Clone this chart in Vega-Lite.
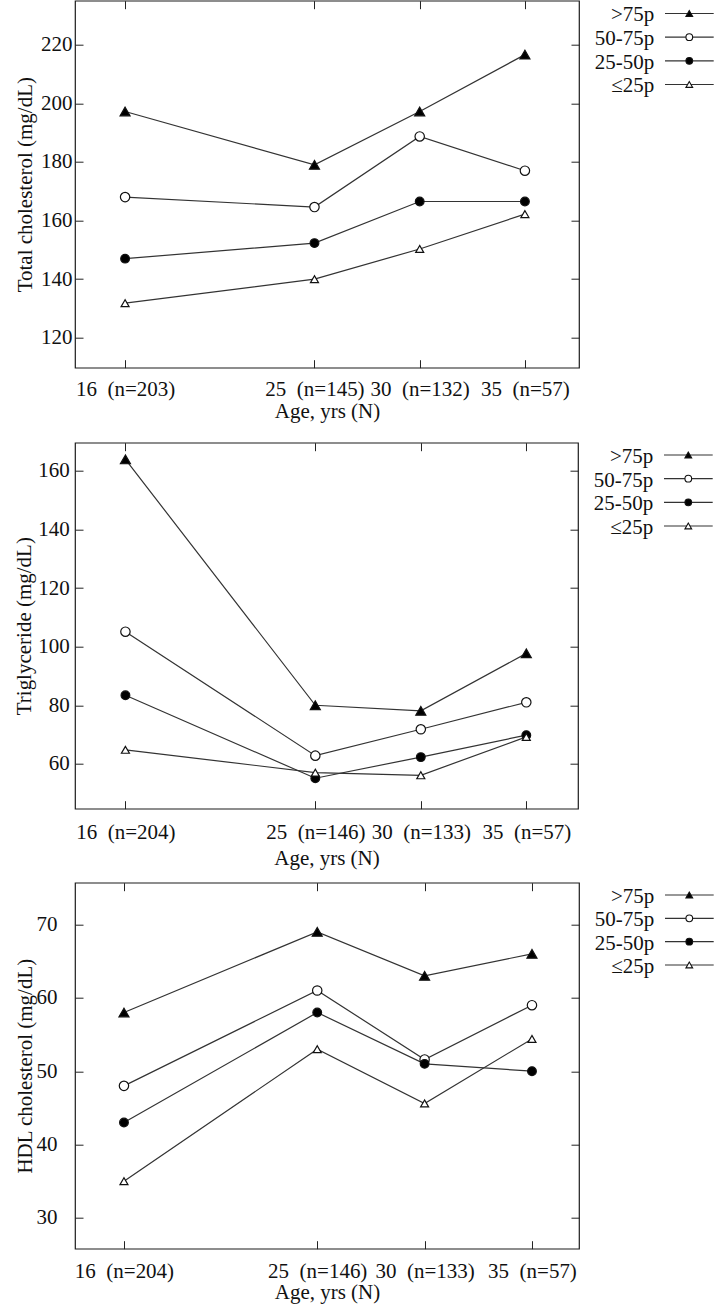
{
  "$schema": "https://vega.github.io/schema/vega-lite/v6.json",
  "background": "white",
  "padding": {"left": 12, "top": -1.3, "right": 0, "bottom": 0},
  "datasets": {
    "keys": [
      {"group": ">75p"}, {"group": "50-75p"}, {"group": "25-50p"}, {"group": "≤25p"}
    ],
    "tc": [
      {"age": 16, "group": ">75p", "value": 197.2},
      {"age": 25, "group": ">75p", "value": 179},
      {"age": 30, "group": ">75p", "value": 197.2},
      {"age": 35, "group": ">75p", "value": 216.6},
      {"age": 16, "group": "50-75p", "value": 168},
      {"age": 25, "group": "50-75p", "value": 164.6},
      {"age": 30, "group": "50-75p", "value": 188.7},
      {"age": 35, "group": "50-75p", "value": 177},
      {"age": 16, "group": "25-50p", "value": 147},
      {"age": 25, "group": "25-50p", "value": 152.3},
      {"age": 30, "group": "25-50p", "value": 166.5},
      {"age": 35, "group": "25-50p", "value": 166.5},
      {"age": 16, "group": "≤25p", "value": 131.8},
      {"age": 25, "group": "≤25p", "value": 140},
      {"age": 30, "group": "≤25p", "value": 150.3},
      {"age": 35, "group": "≤25p", "value": 162.2}
    ],
    "tg": [
      {"age": 16, "group": ">75p", "value": 163.9},
      {"age": 25, "group": ">75p", "value": 80},
      {"age": 30, "group": ">75p", "value": 78.1},
      {"age": 35, "group": ">75p", "value": 97.7},
      {"age": 16, "group": "50-75p", "value": 105.1},
      {"age": 25, "group": "50-75p", "value": 62.8},
      {"age": 30, "group": "50-75p", "value": 71.8},
      {"age": 35, "group": "50-75p", "value": 81},
      {"age": 16, "group": "25-50p", "value": 83.4},
      {"age": 25, "group": "25-50p", "value": 55.1},
      {"age": 30, "group": "25-50p", "value": 62.3},
      {"age": 35, "group": "25-50p", "value": 69.8},
      {"age": 16, "group": "≤25p", "value": 64.8},
      {"age": 25, "group": "≤25p", "value": 57},
      {"age": 30, "group": "≤25p", "value": 56.1},
      {"age": 35, "group": "≤25p", "value": 69.2}
    ],
    "hdl": [
      {"age": 16, "group": ">75p", "value": 58},
      {"age": 25, "group": ">75p", "value": 69},
      {"age": 30, "group": ">75p", "value": 63},
      {"age": 35, "group": ">75p", "value": 66},
      {"age": 16, "group": "50-75p", "value": 48},
      {"age": 25, "group": "50-75p", "value": 61},
      {"age": 30, "group": "50-75p", "value": 51.6},
      {"age": 35, "group": "50-75p", "value": 59},
      {"age": 16, "group": "25-50p", "value": 43},
      {"age": 25, "group": "25-50p", "value": 58},
      {"age": 30, "group": "25-50p", "value": 51},
      {"age": 35, "group": "25-50p", "value": 50},
      {"age": 16, "group": "≤25p", "value": 35},
      {"age": 25, "group": "≤25p", "value": 53},
      {"age": 30, "group": "≤25p", "value": 45.6},
      {"age": 35, "group": "≤25p", "value": 54.4}
    ]
  },
  "columns": 1,
  "spacing": 8,
  "resolve": {"scale": {"x": "independent", "y": "independent"}},
  "concat": [
    {
      "spacing": 0,
      "resolve": {"scale": {"x": "independent", "y": "independent"}},
      "hconcat": [
        {
          "width": 504,
          "height": 367,
          "data": {"name": "tc"},
          "layer": [
            {
              "mark": {"type": "line", "color": "#333", "strokeWidth": 1.2},
              "encoding": {
                "x": {"field": "age", "type": "quantitative",
                  "scale": {"domain": [13.62, 37.57], "nice": false, "zero": false},
                  "axis": {"values": [16, 25, 30, 35], "title": "Age, yrs (N)",
                    "labelExpr": "{'16':'16\u00a0\u00a0(n=203)','25':'25\u00a0\u00a0(n=145)','30':'30\u00a0\u00a0(n=132)','35':'35\u00a0\u00a0(n=57)'}[datum.label]",
                    "labelPadding": 19, "titleY": 33, "titleBaseline": "top"}},
                "y": {"field": "value", "type": "quantitative",
                  "scale": {"domain": [109.8, 235], "nice": false, "zero": false},
                  "axis": {"values": [120, 140, 160, 180, 200, 220], "title": "Total cholesterol (mg/dL)",
                    "labelPadding": 11, "titleX": -40, "titleAngle": 270, "titleBaseline": "bottom"}},
                "detail": {"field": "group"}
              }
            },
            {
              "mark": {"type": "point", "filled": true, "stroke": "#111", "strokeWidth": 1.2, "opacity": 1},
              "encoding": {
                "x": {"field": "age", "type": "quantitative",
                  "scale": {"domain": [13.62, 37.57], "nice": false, "zero": false},
                  "axis": {"orient": "top", "values": [16, 25, 30, 35], "labels": false, "title": null}},
                "y": {"field": "value", "type": "quantitative",
                  "scale": {"domain": [109.8, 235], "nice": false, "zero": false},
                  "axis": {"orient": "right", "values": [120, 140, 160, 180, 200, 220], "labels": false, "title": null}},
                "shape": {"field": "group", "scale": {"domain": [">75p", "50-75p", "25-50p", "≤25p"], "range": ["triangle-up", "circle", "circle", "triangle-up"]}, "legend": null},
                "fill": {"field": "group", "scale": {"domain": [">75p", "50-75p", "25-50p", "≤25p"], "range": ["#000", "#fff", "#000", "#fff"]}, "legend": null},
                "size": {"field": "group", "scale": {"domain": [">75p", "50-75p", "25-50p", "≤25p"], "range": [100, 64, 80, 100]}, "legend": null}
              }
            }
          ],
          "resolve": {"axis": {"x": "independent", "y": "independent"}}
        },
        {
          "width": 139,
          "height": 431.4,
          "view": {"stroke": null},
          "data": {"name": "keys"},
          "layer": [
            {
              "mark": {"type": "rule", "color": "#333", "strokeWidth": 1.2},
              "encoding": {
                "x": {"datum": 84, "type": "quantitative", "scale": {"domain": [0, 139], "nice": false, "zero": false}, "axis": null},
                "x2": {"datum": 132.7},
                "y": {"field": "group", "type": "nominal", "scale": {"type": "point", "domain": [">75p", "50-75p", "25-50p", "≤25p"], "range": [12.8, 83.8], "padding": 0}, "axis": null}
              }
            },
            {
              "mark": {"type": "point", "filled": true, "stroke": "#111", "strokeWidth": 1.1, "size": 45, "opacity": 1},
              "encoding": {
                "x": {"datum": 108.3, "type": "quantitative", "scale": {"domain": [0, 139], "nice": false, "zero": false}, "axis": null},
                "y": {"field": "group", "type": "nominal", "scale": {"type": "point", "domain": [">75p", "50-75p", "25-50p", "≤25p"], "range": [12.8, 83.8], "padding": 0}, "axis": null},
                "shape": {"field": "group", "scale": {"domain": [">75p", "50-75p", "25-50p", "≤25p"], "range": ["triangle-up", "circle", "circle", "triangle-up"]}, "legend": null},
                "fill": {"field": "group", "scale": {"domain": [">75p", "50-75p", "25-50p", "≤25p"], "range": ["#000", "#fff", "#000", "#fff"]}, "legend": null}
              }
            },
            {
              "mark": {"type": "text", "align": "right", "baseline": "middle", "fontSize": 21, "color": "#111", "dy": 2},
              "encoding": {
                "x": {"datum": 73.3, "type": "quantitative", "scale": {"domain": [0, 139], "nice": false, "zero": false}, "axis": null},
                "y": {"field": "group", "type": "nominal", "scale": {"type": "point", "domain": [">75p", "50-75p", "25-50p", "≤25p"], "range": [12.8, 83.8], "padding": 0}, "axis": null},
                "text": {"field": "group"}
              }
            }
          ]
        }
      ]
    },
    {
      "spacing": 0,
      "resolve": {"scale": {"x": "independent", "y": "independent"}},
      "hconcat": [
        {
          "width": 503,
          "height": 366,
          "data": {"name": "tg"},
          "layer": [
            {
              "mark": {"type": "line", "color": "#333", "strokeWidth": 1.2},
              "encoding": {
                "x": {"field": "age", "type": "quantitative",
                  "scale": {"domain": [13.61, 37.45], "nice": false, "zero": false},
                  "axis": {"values": [16, 25, 30, 35], "title": "Age, yrs (N)",
                    "labelExpr": "{'16':'16\u00a0\u00a0(n=204)','25':'25\u00a0\u00a0(n=146)','30':'30\u00a0\u00a0(n=133)','35':'35\u00a0\u00a0(n=57)'}[datum.label]",
                    "labelPadding": 21, "titleY": 39, "titleBaseline": "top"}},
                "y": {"field": "value", "type": "quantitative",
                  "scale": {"domain": [44.7, 169.6], "nice": false, "zero": false},
                  "axis": {"values": [60, 80, 100, 120, 140, 160], "title": "Triglyceride (mg/dL)",
                    "labelPadding": 13.7, "titleX": -41, "titleAngle": 270, "titleBaseline": "bottom"}},
                "detail": {"field": "group"}
              }
            },
            {
              "mark": {"type": "point", "filled": true, "stroke": "#111", "strokeWidth": 1.2, "opacity": 1},
              "encoding": {
                "x": {"field": "age", "type": "quantitative",
                  "scale": {"domain": [13.61, 37.45], "nice": false, "zero": false},
                  "axis": {"orient": "top", "values": [16, 25, 30, 35], "labels": false, "title": null}},
                "y": {"field": "value", "type": "quantitative",
                  "scale": {"domain": [44.7, 169.6], "nice": false, "zero": false},
                  "axis": {"orient": "right", "values": [60, 80, 100, 120, 140, 160], "labels": false, "title": null}},
                "shape": {"field": "group", "scale": {"domain": [">75p", "50-75p", "25-50p", "≤25p"], "range": ["triangle-up", "circle", "circle", "triangle-up"]}, "legend": null},
                "fill": {"field": "group", "scale": {"domain": [">75p", "50-75p", "25-50p", "≤25p"], "range": ["#000", "#fff", "#000", "#fff"]}, "legend": null},
                "size": {"field": "group", "scale": {"domain": [">75p", "50-75p", "25-50p", "≤25p"], "range": [100, 64, 80, 100]}, "legend": null}
              }
            }
          ],
          "resolve": {"axis": {"x": "independent", "y": "independent"}}
        },
        {
          "width": 139,
          "height": 429.7,
          "view": {"stroke": null},
          "data": {"name": "keys"},
          "layer": [
            {
              "mark": {"type": "rule", "color": "#333", "strokeWidth": 1.2},
              "encoding": {
                "x": {"datum": 84, "type": "quantitative", "scale": {"domain": [0, 139], "nice": false, "zero": false}, "axis": null},
                "x2": {"datum": 132.7},
                "y": {"field": "group", "type": "nominal", "scale": {"type": "point", "domain": [">75p", "50-75p", "25-50p", "≤25p"], "range": [12.3, 83.3], "padding": 0}, "axis": null}
              }
            },
            {
              "mark": {"type": "point", "filled": true, "stroke": "#111", "strokeWidth": 1.1, "size": 45, "opacity": 1},
              "encoding": {
                "x": {"datum": 108.3, "type": "quantitative", "scale": {"domain": [0, 139], "nice": false, "zero": false}, "axis": null},
                "y": {"field": "group", "type": "nominal", "scale": {"type": "point", "domain": [">75p", "50-75p", "25-50p", "≤25p"], "range": [12.3, 83.3], "padding": 0}, "axis": null},
                "shape": {"field": "group", "scale": {"domain": [">75p", "50-75p", "25-50p", "≤25p"], "range": ["triangle-up", "circle", "circle", "triangle-up"]}, "legend": null},
                "fill": {"field": "group", "scale": {"domain": [">75p", "50-75p", "25-50p", "≤25p"], "range": ["#000", "#fff", "#000", "#fff"]}, "legend": null}
              }
            },
            {
              "mark": {"type": "text", "align": "right", "baseline": "middle", "fontSize": 21, "color": "#111", "dy": 2},
              "encoding": {
                "x": {"datum": 73.3, "type": "quantitative", "scale": {"domain": [0, 139], "nice": false, "zero": false}, "axis": null},
                "y": {"field": "group", "type": "nominal", "scale": {"type": "point", "domain": [">75p", "50-75p", "25-50p", "≤25p"], "range": [12.3, 83.3], "padding": 0}, "axis": null},
                "text": {"field": "group"}
              }
            }
          ]
        }
      ]
    },
    {
      "spacing": 0,
      "resolve": {"scale": {"x": "independent", "y": "independent"}},
      "hconcat": [
        {
          "width": 504,
          "height": 366,
          "data": {"name": "hdl"},
          "layer": [
            {
              "mark": {"type": "line", "color": "#333", "strokeWidth": 1.2},
              "encoding": {
                "x": {"field": "age", "type": "quantitative",
                  "scale": {"domain": [13.72, 37.19], "nice": false, "zero": false},
                  "axis": {"values": [16, 25, 30, 35], "title": "Age, yrs (N)",
                    "labelExpr": "{'16':'16\u00a0\u00a0(n=204)','25':'25\u00a0\u00a0(n=146)','30':'30\u00a0\u00a0(n=133)','35':'35\u00a0\u00a0(n=57)'}[datum.label]",
                    "labelPadding": 19.5, "titleY": 33, "titleBaseline": "top"}},
                "y": {"field": "value", "type": "quantitative",
                  "scale": {"domain": [25.8, 75.7], "nice": false, "zero": false},
                  "axis": {"values": [30, 40, 50, 60, 70], "title": "HDL cholesterol (mg/dL)",
                    "labelPadding": 26, "titleX": -40, "titleAngle": 270, "titleBaseline": "bottom"}},
                "detail": {"field": "group"}
              }
            },
            {
              "mark": {"type": "point", "filled": true, "stroke": "#111", "strokeWidth": 1.2, "opacity": 1},
              "encoding": {
                "x": {"field": "age", "type": "quantitative",
                  "scale": {"domain": [13.72, 37.19], "nice": false, "zero": false},
                  "axis": {"orient": "top", "values": [16, 25, 30, 35], "labels": false, "title": null}},
                "y": {"field": "value", "type": "quantitative",
                  "scale": {"domain": [25.8, 75.7], "nice": false, "zero": false},
                  "axis": {"orient": "right", "values": [30, 40, 50, 60, 70], "labels": false, "title": null}},
                "shape": {"field": "group", "scale": {"domain": [">75p", "50-75p", "25-50p", "≤25p"], "range": ["triangle-up", "circle", "circle", "triangle-up"]}, "legend": null},
                "fill": {"field": "group", "scale": {"domain": [">75p", "50-75p", "25-50p", "≤25p"], "range": ["#000", "#fff", "#000", "#fff"]}, "legend": null},
                "size": {"field": "group", "scale": {"domain": [">75p", "50-75p", "25-50p", "≤25p"], "range": [100, 64, 80, 100]}, "legend": null}
              }
            }
          ],
          "resolve": {"axis": {"x": "independent", "y": "independent"}}
        },
        {
          "width": 139,
          "height": 100,
          "view": {"stroke": null},
          "data": {"name": "keys"},
          "layer": [
            {
              "mark": {"type": "rule", "color": "#333", "strokeWidth": 1.2},
              "encoding": {
                "x": {"datum": 84, "type": "quantitative", "scale": {"domain": [0, 139], "nice": false, "zero": false}, "axis": null},
                "x2": {"datum": 132.7},
                "y": {"field": "group", "type": "nominal", "scale": {"type": "point", "domain": [">75p", "50-75p", "25-50p", "≤25p"], "range": [12.3, 82.3], "padding": 0}, "axis": null}
              }
            },
            {
              "mark": {"type": "point", "filled": true, "stroke": "#111", "strokeWidth": 1.1, "size": 45, "opacity": 1},
              "encoding": {
                "x": {"datum": 108.3, "type": "quantitative", "scale": {"domain": [0, 139], "nice": false, "zero": false}, "axis": null},
                "y": {"field": "group", "type": "nominal", "scale": {"type": "point", "domain": [">75p", "50-75p", "25-50p", "≤25p"], "range": [12.3, 82.3], "padding": 0}, "axis": null},
                "shape": {"field": "group", "scale": {"domain": [">75p", "50-75p", "25-50p", "≤25p"], "range": ["triangle-up", "circle", "circle", "triangle-up"]}, "legend": null},
                "fill": {"field": "group", "scale": {"domain": [">75p", "50-75p", "25-50p", "≤25p"], "range": ["#000", "#fff", "#000", "#fff"]}, "legend": null}
              }
            },
            {
              "mark": {"type": "text", "align": "right", "baseline": "middle", "fontSize": 21, "color": "#111", "dy": 2},
              "encoding": {
                "x": {"datum": 73.3, "type": "quantitative", "scale": {"domain": [0, 139], "nice": false, "zero": false}, "axis": null},
                "y": {"field": "group", "type": "nominal", "scale": {"type": "point", "domain": [">75p", "50-75p", "25-50p", "≤25p"], "range": [12.3, 82.3], "padding": 0}, "axis": null},
                "text": {"field": "group"}
              }
            }
          ]
        }
      ]
    }
  ],
  "config": {
    "font": "Liberation Serif",
    "view": {"stroke": "#1c1c1c", "strokeWidth": 1.2},
    "axis": {
      "domain": false, "grid": false,
      "tickSize": -8, "tickColor": "#222", "tickWidth": 1,
      "labelFont": "Liberation Serif", "labelFontSize": 21, "labelColor": "#111",
      "labelFlush": false, "labelOverlap": false,
      "titleFont": "Liberation Serif", "titleFontSize": 21, "titleFontWeight": "normal", "titleColor": "#111"
    },
    "text": {"font": "Liberation Serif"}
  }
}
